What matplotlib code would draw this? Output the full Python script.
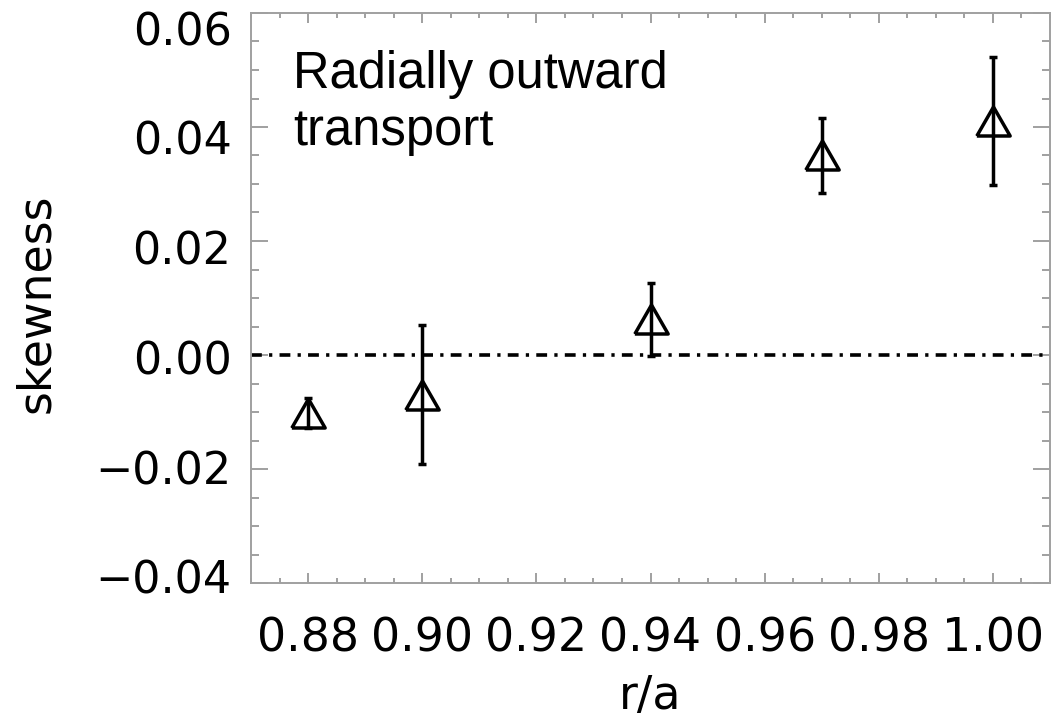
import matplotlib.pyplot as plt
from matplotlib.ticker import MultipleLocator
from matplotlib.transforms import ScaledTranslation

plt.rcParams['font.family'] = ['DejaVu Sans']

# skewness profile vs normalised radius
r_a = [0.88, 0.90, 0.94, 0.97, 1.00]
skewness = [-0.0102, -0.0070, 0.0063, 0.0350, 0.0411]
skew_err = [0.0026, 0.0122, 0.0064, 0.0065, 0.0112]

xticks = [0.88, 0.90, 0.92, 0.94, 0.96, 0.98, 1.00]
yticks = [-0.04, -0.02, 0.00, 0.02, 0.04, 0.06]

# open triangle, a bit wider than tall
tri = [(-1, -0.87), (0, 0.87), (1, -0.87), (-1, -0.87)]

fig = plt.figure(figsize=(10.59, 7.2), dpi=100)
ax = fig.add_axes([251 / 1059, 1 - 583 / 720, 799 / 1059, 570 / 720])

ax.axhline(0.0, color='black', lw=2.6, linestyle=(0, (3.0, 2.0, 0.9, 2.0)))

ax.errorbar(r_a, skewness, yerr=skew_err, fmt='none', ecolor='black',
            elinewidth=2.5, capsize=3, capthick=2.5)
ax.plot(r_a, skewness, linestyle='none', marker=tri, markersize=24,
        markerfacecolor='none', markeredgecolor='black', markeredgewidth=2.5)

ax.set_xlim(0.87, 1.01)
ax.set_ylim(-0.04, 0.06)
ax.set_xticks(xticks)
ax.set_yticks(yticks)
ax.set_xticklabels([f'{v:.2f}' for v in xticks])
ax.set_yticklabels([f'{v:.2f}'.replace('-', '\u2212') for v in yticks])
ax.xaxis.set_minor_locator(MultipleLocator(0.005))
ax.yaxis.set_minor_locator(MultipleLocator(0.005))

grey = '#a0a0a0'
for s in ax.spines.values():
    s.set_color(grey)
    s.set_linewidth(1.4)

ax.tick_params(which='both', direction='in', top=True, right=True,
               color=grey, width=1.4, labelcolor='black', labelsize=32)
ax.tick_params(axis='x', which='major', length=7, pad=24, labelsize=33)
ax.tick_params(axis='x', which='minor', length=3.6)
ax.tick_params(axis='y', which='major', length=12, pad=14)
ax.tick_params(axis='y', which='minor', length=6)

# y labels sit on a slightly tighter spacing than the ticks, top one lowered
for i, lab in enumerate(ax.get_yticklabels()):
    k = len(yticks) - 1 - i          # rows from the top
    dy_px = 15 - k * 4.2
    lab.set_transform(lab.get_transform()
                      + ScaledTranslation(0, -dy_px / 100, fig.dpi_scale_trans))

ax.set_xlabel('r/a', fontsize=33, labelpad=9)
ax.set_ylabel('skewness', fontsize=33)
ax.yaxis.set_label_coords(-0.240, 0.49)

ax.text(0.0525, 0.935, 'Radially outward\ntransport', transform=ax.transAxes,
        ha='left', va='top', fontsize=36.5, family='Liberation Sans')

fig.savefig('out.png', dpi=100)
